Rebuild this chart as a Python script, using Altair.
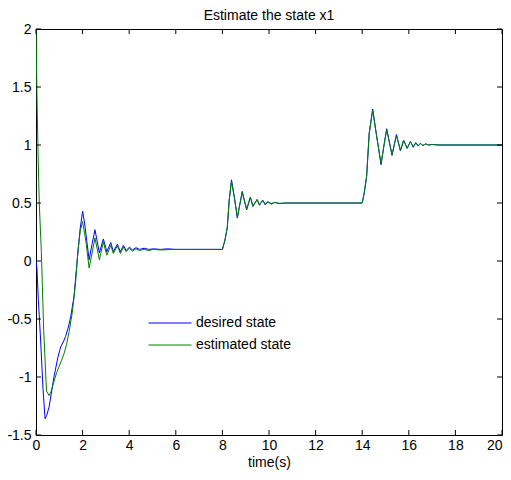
import altair as alt
import pandas as pd

# ---- data ----
t_desired = [0, 0.04, 0.1, 0.2, 0.3, 0.39, 0.46, 0.56, 0.77, 0.94, 1.06, 1.19, 1.27, 1.39, 1.49, 1.63, 1.77,
             1.89, 2.0, 2.09, 2.28, 2.41, 2.53, 2.72, 2.89, 3.04, 3.21, 3.32, 3.49, 3.62, 3.75, 3.87, 4.01,
             4.14, 4.29, 4.44, 4.64, 4.84, 5.04, 5.34, 5.64, 6.0, 8.0, 8.11, 8.21, 8.29, 8.39, 8.52, 8.64,
             8.75, 8.85, 9.04, 9.2, 9.31, 9.49, 9.59, 9.73, 9.83, 9.95, 10.1, 10.25, 10.45, 10.7, 14.0,
             14.09, 14.19, 14.3, 14.45, 14.61, 14.81, 14.93, 15.05, 15.28, 15.47, 15.64, 15.78, 15.93,
             16.07, 16.19, 16.3, 16.4, 16.5, 16.6, 16.72, 16.85, 17.0, 17.3, 20.0]
y_desired = [0, -0.06, -0.33, -0.69, -1.1, -1.36, -1.33, -1.26, -1.0, -0.83, -0.74, -0.69, -0.65, -0.57,
             -0.48, -0.31, 0.01, 0.27, 0.43, 0.32, 0.01, 0.15, 0.27, 0.07, 0.19, 0.08, 0.16, 0.08, 0.145,
             0.08, 0.135, 0.09, 0.12, 0.095, 0.115, 0.1, 0.11, 0.1, 0.105, 0.1, 0.105, 0.1, 0.1, 0.18, 0.29,
             0.52, 0.7, 0.54, 0.37, 0.49, 0.6, 0.44, 0.55, 0.47, 0.53, 0.48, 0.525, 0.485, 0.51, 0.49,
             0.505, 0.495, 0.5, 0.5, 0.59, 0.73, 1.1, 1.31, 1.09, 0.83, 0.99, 1.14, 0.91, 1.09, 0.95, 1.04,
             0.97, 1.03, 0.98, 1.02, 0.99, 1.015, 0.995, 1.01, 1.0, 1.005, 1.0, 1.0]

t_estimated = [0, 0.04, 0.09, 0.14, 0.23, 0.33, 0.45, 0.56, 0.64, 0.77, 0.89, 0.99, 1.09, 1.2, 1.31, 1.42,
               1.56, 1.7, 1.8, 1.9, 2.0, 2.14, 2.28, 2.41, 2.53, 2.72, 2.89, 3.04, 3.21, 3.32, 3.49, 3.62,
               3.75, 3.87, 4.01, 4.14, 4.29, 4.44, 4.64, 4.84, 5.04, 5.34, 6.0, 8.0, 8.11, 8.21, 8.29,
               8.39, 8.52, 8.64, 8.75, 8.85, 9.04, 9.2, 9.31, 9.49, 9.59, 9.73, 9.83, 9.95, 10.1, 10.25,
               10.45, 10.7, 14.0, 14.09, 14.19, 14.3, 14.45, 14.61, 14.81, 14.93, 15.05, 15.28, 15.47,
               15.64, 15.78, 15.93, 16.07, 16.19, 16.3, 16.4, 16.5, 16.6, 16.72, 16.85, 17.0, 17.3, 20.0]
y_estimated = [2.0, 1.45, 0.91, 0.5, 0.08, -0.6, -1.12, -1.16, -1.13, -1.04, -0.96, -0.91, -0.86, -0.8,
               -0.72, -0.61, -0.44, -0.18, 0.09, 0.26, 0.34, 0.17, -0.06, 0.07, 0.2, 0.01, 0.165, 0.05,
               0.135, 0.065, 0.13, 0.065, 0.12, 0.08, 0.11, 0.085, 0.105, 0.09, 0.1, 0.09, 0.1, 0.095, 0.1,
               0.1, 0.18, 0.29, 0.52, 0.69, 0.54, 0.38, 0.49, 0.59, 0.45, 0.55, 0.475, 0.53, 0.485, 0.52,
               0.49, 0.51, 0.495, 0.505, 0.497, 0.5, 0.5, 0.59, 0.73, 1.1, 1.3, 1.09, 0.84, 0.99, 1.13, 0.92,
               1.08, 0.955, 1.04, 0.975, 1.03, 0.985, 1.02, 0.995, 1.012, 0.997, 1.008, 1.0, 1.004, 1.0, 1.0]

series_names = ["desired state", "estimated state"]
series_colors = ["#0000ff", "#008000"]

x_ticks = [0, 2, 4, 6, 8, 10, 12, 14, 16, 18, 20]
y_ticks = [-1.5, -1, -0.5, 0, 0.5, 1, 1.5, 2]

title_text = "Estimate the state x1"
x_title = "time(s)"

# ---- tables ----
df = pd.concat([
    pd.DataFrame({"t": t_desired, "y": y_desired, "series": series_names[0], "order": range(len(t_desired))}),
    pd.DataFrame({"t": t_estimated, "y": y_estimated, "series": series_names[1], "order": range(len(t_estimated))}),
])
xt = pd.DataFrame({"t": x_ticks})
yt = pd.DataFrame({"y": y_ticks})

W, H = 466, 406
FONT = "Liberation Sans"
xscale = alt.Scale(domain=[0, 20], nice=False, zero=False)
yscale = alt.Scale(domain=[-1.5, 2], nice=False, zero=False)

lines = alt.Chart(df).mark_line(strokeWidth=1, clip=True).encode(
    x=alt.X("t:Q", scale=xscale,
            axis=alt.Axis(values=x_ticks, title=x_title, labelExpr="'' + datum.value",
                          labelFlush=False, labelOverlap=False, labelBound=False,
                          labelAlign={"condition": {"test": "datum.value == 20", "value": "right"},
                                      "value": "center"},
                          labelPadding=3, titlePadding=3)),
    y=alt.Y("y:Q", scale=yscale,
            axis=alt.Axis(values=y_ticks, title=None, labelExpr="'' + datum.value", labelPadding=5,
                          labelOverlap=False, labelFlush=False)),
    color=alt.Color("series:N", scale=alt.Scale(domain=series_names, range=series_colors),
                    legend=alt.Legend(title=None, orient="none", legendX=112, legendY=287,
                                      symbolType="stroke", symbolSize=1849, symbolStrokeWidth=1,
                                      clipHeight=14, labelFontSize=14, labelFont=FONT, labelColor="black",
                                      labelOffset=4, rowPadding=8, padding=0)),
    order="order:Q",
)

tick_b = alt.Chart(xt).mark_rule(color="black", strokeWidth=1).encode(
    x=alt.X("t:Q", scale=xscale), y=alt.value(H), y2=alt.value(H - 5))
tick_t = alt.Chart(xt).mark_rule(color="black", strokeWidth=1).encode(
    x=alt.X("t:Q", scale=xscale), y=alt.value(0), y2=alt.value(5))
tick_l = alt.Chart(yt).mark_rule(color="black", strokeWidth=1).encode(
    y=alt.Y("y:Q", scale=yscale), x=alt.value(0), x2=alt.value(5))
tick_r = alt.Chart(yt).mark_rule(color="black", strokeWidth=1).encode(
    y=alt.Y("y:Q", scale=yscale), x=alt.value(W), x2=alt.value(W - 5))

chart = alt.layer(lines, tick_b, tick_t, tick_l, tick_r).properties(
    width=W, height=H,
    title=alt.TitleParams(title_text, fontSize=14, font=FONT, fontWeight="normal", color="black",
                          anchor="middle", offset=-1),
    autosize=alt.AutoSizeParams(type="none"),
    padding={"left": 28, "top": 21, "right": 1, "bottom": 36},
    background="white",
).configure_view(
    stroke="black", strokeWidth=1
).configure_axis(
    grid=False, domain=False, ticks=False,
    labelFont=FONT, labelFontSize=14, labelColor="black",
    titleFont=FONT, titleFontSize=14, titleFontWeight="normal", titleColor="black",
)

chart.save("out.html", embed_options={"renderer": "svg", "actions": False})
